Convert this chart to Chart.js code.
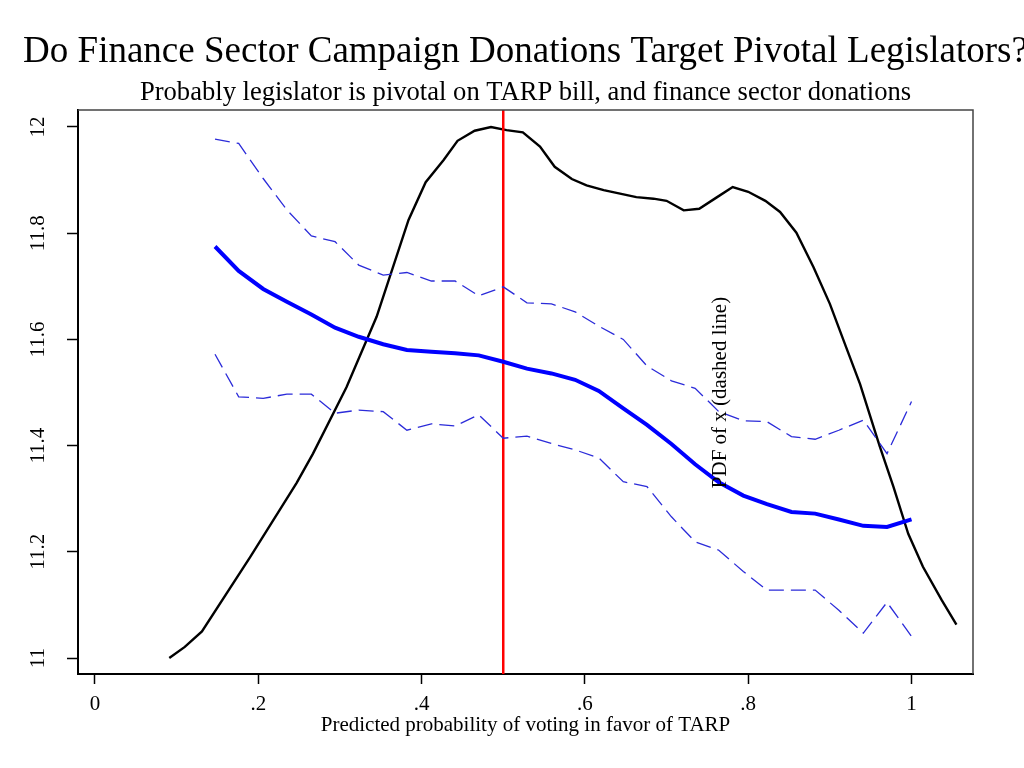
<!DOCTYPE html>
<html>
<head>
<meta charset="utf-8">
<script src="https://cdn.jsdelivr.net/npm/chart.js@4"></script>
<style>
  body { margin: 0; background: #fff; }
  #wrap { width: 1024px; height: 768px; }
</style>
</head>
<body>
<div id="wrap"><canvas id="chart" width="1024" height="768"></canvas></div>
<script>
// ticks
var xTickVals = [0, 0.2, 0.4, 0.6, 0.8, 1];
var xTickLabels = ["0", ".2", ".4", ".6", ".8", "1"];
var yTickVals = [11, 11.2, 11.4, 11.6, 11.8, 12];
var yTickLabels = ["11", "11.2", "11.4", "11.6", "11.8", "12"];

// binned fit: x of bin, mean and confidence bounds
var binX = [0.147, 0.176, 0.206, 0.235, 0.265, 0.294, 0.323, 0.353, 0.382, 0.412,
            0.441, 0.470, 0.500, 0.529, 0.559, 0.588, 0.617, 0.647, 0.676, 0.706,
            0.735, 0.764, 0.794, 0.823, 0.853, 0.882, 0.911, 0.941, 0.970, 1.000];
var meanY = [11.775, 11.729, 11.695, 11.671, 11.647, 11.622, 11.605, 11.591, 11.580, 11.577,
             11.574, 11.570, 11.558, 11.545, 11.536, 11.524, 11.503, 11.470, 11.439, 11.403,
             11.365, 11.331, 11.306, 11.290, 11.275, 11.272, 11.261, 11.249, 11.247, 11.261];
var upperY = [11.977, 11.969, 11.903, 11.844, 11.795, 11.784, 11.740, 11.721, 11.726, 11.710,
              11.710, 11.682, 11.699, 11.669, 11.667, 11.652, 11.625, 11.600, 11.550, 11.522,
              11.508, 11.464, 11.447, 11.445, 11.417, 11.412, 11.429, 11.448, 11.385, 11.483];
var lowerY = [11.572, 11.492, 11.489, 11.497, 11.497, 11.461, 11.467, 11.464, 11.429, 11.441,
              11.437, 11.458, 11.414, 11.418, 11.404, 11.392, 11.377, 11.332, 11.323, 11.266,
              11.219, 11.203, 11.163, 11.128, 11.128, 11.128, 11.090, 11.047, 11.105, 11.041];

// density of x (drawn on the same axis)
var densX = [0.091, 0.110, 0.131, 0.190, 0.247, 0.267, 0.308, 0.333, 0.345, 0.384,
             0.405, 0.427, 0.444, 0.465, 0.485, 0.504, 0.524, 0.545, 0.563, 0.584,
             0.602, 0.623, 0.663, 0.684, 0.700, 0.721, 0.740, 0.761, 0.781, 0.800,
             0.821, 0.839, 0.859, 0.880, 0.900, 0.920, 0.937, 0.961, 0.978, 0.996,
             1.014, 1.037, 1.055];
var densY = [11.000, 11.021, 11.050, 11.190, 11.330, 11.385, 11.510, 11.600, 11.643, 11.825,
             11.896, 11.938, 11.974, 11.993, 12.000, 11.994, 11.990, 11.963, 11.925, 11.902,
             11.890, 11.881, 11.868, 11.865, 11.861, 11.843, 11.846, 11.867, 11.887, 11.878,
             11.861, 11.840, 11.801, 11.736, 11.667, 11.585, 11.516, 11.399, 11.322, 11.234,
             11.172, 11.109, 11.063];

var pivotX = 0.5;
var xMin = -0.0208, xMax = 1.0753;
var yMin = 10.970, yMax = 12.032;

var titleText = "Do Finance Sector Campaign Donations Target Pivotal Legislators?";
var subtitleText = "Probably legislator is pivotal on TARP bill, and finance sector donations";
var xTitle = "Predicted probability of voting in favor of TARP";
var pdfLabel = "PDF of x (dashed line)";
var pdfLabelAt = { x: 0.773, y: 11.5 };

var serif = '"Liberation Serif", "Times New Roman", serif';

function pts(xs, ys) {
    return xs.map(function(x, i) { return { x: x, y: ys[i] }; });
}

var textPlugin = {
    id: "texts",
    afterDraw: function(chart) {
        var ctx = chart.ctx;
        var a = chart.chartArea;
        var xs = chart.scales.x, ys = chart.scales.y;
        var cx = (a.left + a.right) / 2;
        ctx.save();

        // top and right frame
        ctx.strokeStyle = "#444";
        ctx.lineWidth = 1.5;
        ctx.beginPath();
        ctx.moveTo(a.left, a.top);
        ctx.lineTo(a.right, a.top);
        ctx.lineTo(a.right, a.bottom);
        ctx.stroke();

        ctx.fillStyle = "#000";
        ctx.textAlign = "center";
        ctx.textBaseline = "alphabetic";
        ctx.font = "37px " + serif;
        ctx.fillText(titleText, cx, 62);
        ctx.font = "26.6px " + serif;
        ctx.fillText(subtitleText, cx, 100);

        // y tick labels, rotated
        ctx.font = "21px " + serif;
        yTickVals.forEach(function(v, i) {
            ctx.save();
            ctx.translate(44, ys.getPixelForValue(v));
            ctx.rotate(-Math.PI / 2);
            ctx.fillText(yTickLabels[i], 0, 0);
            ctx.restore();
        });

        // pdf label inside plot
        ctx.font = "21px " + serif;
        ctx.translate(xs.getPixelForValue(pdfLabelAt.x), ys.getPixelForValue(pdfLabelAt.y));
        ctx.rotate(-Math.PI / 2);
        ctx.fillText(pdfLabel, 0, 0);
        ctx.restore();
    }
};

var ctx = document.getElementById("chart").getContext("2d");
var chart = new Chart(ctx, {
    type: "line",
    data: {
        datasets: [
            {
                data: pts(binX, upperY),
                borderColor: "#2b2bd9",
                borderWidth: 1.3,
                borderDash: [15, 7],
                pointRadius: 0
            },
            {
                data: pts(binX, lowerY),
                borderColor: "#2b2bd9",
                borderWidth: 1.3,
                borderDash: [15, 7],
                pointRadius: 0
            },
            {
                data: pts(binX, meanY),
                borderColor: "#0000ff",
                borderWidth: 4,
                pointRadius: 0
            },
            {
                data: pts([pivotX, pivotX], [yMin, yMax]),
                borderColor: "#ff0000",
                borderWidth: 2.5,
                pointRadius: 0
            },
            {
                data: pts(densX, densY),
                borderColor: "#000",
                borderWidth: 2.4,
                pointRadius: 0
            }
        ]
    },
    options: {
        responsive: false,
        animation: false,
        events: [],
        layout: { padding: { top: 110, right: 51, left: 0, bottom: 30 } },
        plugins: {
            legend: { display: false },
            tooltip: { enabled: false }
        },
        elements: { line: { tension: 0 } },
        scales: {
            x: {
                type: "linear",
                min: xMin,
                max: xMax,
                afterBuildTicks: function(scale) {
                    scale.ticks = xTickVals.map(function(v) { return { value: v }; });
                },
                afterFit: function(scale) { scale.height = 64; },
                ticks: {
                    autoSkip: false,
                    maxRotation: 0,
                    color: "#000",
                    padding: 8,
                    font: { family: serif, size: 21 },
                    callback: function(v) { return xTickLabels[xTickVals.indexOf(v)]; }
                },
                grid: { drawOnChartArea: false, tickLength: 10, tickColor: "#000", tickWidth: 1.5 },
                border: { color: "#000", width: 2 },
                title: {
                    display: true,
                    text: xTitle,
                    color: "#000",
                    font: { family: serif, size: 21 },
                    padding: { top: 0, bottom: 0 }
                }
            },
            y: {
                type: "linear",
                min: yMin,
                max: yMax,
                afterBuildTicks: function(scale) {
                    scale.ticks = yTickVals.map(function(v) { return { value: v }; });
                },
                afterFit: function(scale) { scale.width = 78; },
                ticks: { display: false },
                grid: { drawOnChartArea: false, tickLength: 11, tickColor: "#000", tickWidth: 1.5 },
                border: { color: "#000", width: 2 }
            }
        }
    },
    plugins: [textPlugin]
});
</script>
</body>
</html>
